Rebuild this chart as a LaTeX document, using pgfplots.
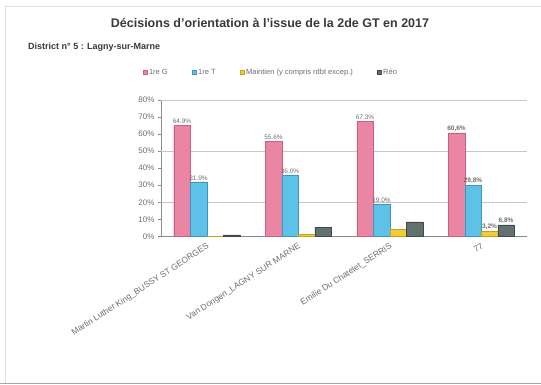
\documentclass[border=0pt]{standalone}
\usepackage{pgfplots}
\pgfplotsset{compat=1.18}
\usepackage{fontspec}
\setmainfont{Liberation Sans}
\definecolor{pinkM}{HTML}{EA86A4}
\definecolor{pinkD}{HTML}{C9607F}
\definecolor{blueM}{HTML}{5EC2E8}
\definecolor{blueD}{HTML}{3A98C0}
\definecolor{yelM}{HTML}{F2CC3A}
\definecolor{yelD}{HTML}{C8A020}
\definecolor{grayM}{HTML}{627070}
\definecolor{grayD}{HTML}{3E4A4A}
\definecolor{txt}{HTML}{6E6E6E}
\definecolor{ttl}{HTML}{3A3A3A}
\begin{document}
\begin{tikzpicture}
\path[use as bounding box] (0pt,0pt) rectangle (541pt,385pt);
\fill[white] (0pt,0pt) rectangle (541pt,385pt);
\draw[black!12, line width=1pt] (5pt,2pt) -- (5pt,378pt) -- (541pt,378pt);
\draw[black!35, line width=1.5pt] (0pt,1.5pt) -- (541pt,1.5pt);
\node[font=\bfseries\fontsize{12.5}{14}\selectfont, text=ttl] at (270pt,362pt) {Décisions d'orientation à l'issue de la 2de GT en 2017};
\node[font=\bfseries\fontsize{9}{11}\selectfont, text=ttl, anchor=west, inner sep=0pt] at (28pt,338pt) {District n° 5 : Lagny-sur-Marne};
\begin{axis}[
  at={(161pt,148.5pt)}, anchor=south west,
  scale only axis, width=366pt, height=136.8pt,
  xmin=-0.5, xmax=3.5, ymin=0, ymax=80,
  axis x line*=bottom, axis y line*=left,
  axis line style={black!45},
  ybar=0pt, bar width=16.5pt,
  xtick={0,1,2,3},
  xticklabels={Martin Luther King\_BUSSY ST GEORGES, Van Dongen\_LAGNY SUR MARNE, Emilie Du Chatelet\_SERRIS, 77},
  x tick style={draw=none},
  extra x ticks={0.5,1.5,2.5}, extra x tick labels={},
  extra x tick style={major tick length=3pt, tick style={black!45}},
  xticklabel style={rotate=33, anchor=north east, font=\fontsize{8.5}{10}\selectfont, text=txt, inner sep=2pt},
  ytick={0,10,...,80},
  yticklabel={\pgfmathprintnumber[assume math mode=true]{\tick}\%},
  yticklabel style={font=\fontsize{8}{9}\selectfont, text=txt},
  tick align=outside, y tick style={black!45}, major tick length=3pt,
  extra y ticks={20,50,80}, extra y tick labels={},
  extra y tick style={grid=major, major grid style={black!22}, y tick style={draw=none}},
  point meta=explicit symbolic,
  nodes near coords,
  every node near coord/.append style={font=\fontsize{6.5}{8}\selectfont, text=txt, inner sep=1.5pt},
  legend style={at={(0.30,1.2)}, anchor=center, draw=none, fill=none, legend columns=4,
    font=\fontsize{7.5}{9}\selectfont, text=txt,
    /tikz/every even column/.append style={column sep=22pt}},
  legend image code/.code={\fill[#1] (0pt,-2pt) rectangle (4pt,2pt);},
]
\addplot[draw=pinkD, line width=0.4pt, fill=pinkM] coordinates {(0,64.9) [64.9\%] (1,55.6) [55.6\%] (2,67.3) [67.3\%] (3,60.6) [\textbf{60,6\%}]};
\addplot[draw=blueD, line width=0.4pt, fill=blueM] coordinates {(0,31.9) [31.9\%] (1,36.0) [36.0\%] (2,19.0) [19.0\%] (3,29.8) [\textbf{29,8\%}]};
\addplot[draw=yelD, line width=0.4pt, fill=yelM] coordinates {(0,0) [] (1,1.2) [] (2,4.0) [] (3,3.2) [\textbf{3,2\%}]};
\addplot[draw=grayD, line width=0.4pt, fill=grayM] coordinates {(0,1.0) [] (1,5.5) [] (2,8.5) [] (3,6.8) [\textbf{6,8\%}]};
\legend{1re G, 1re T, Maintien (y compris rdbt excep.), Réo}
\end{axis}
\end{tikzpicture}
\end{document}
